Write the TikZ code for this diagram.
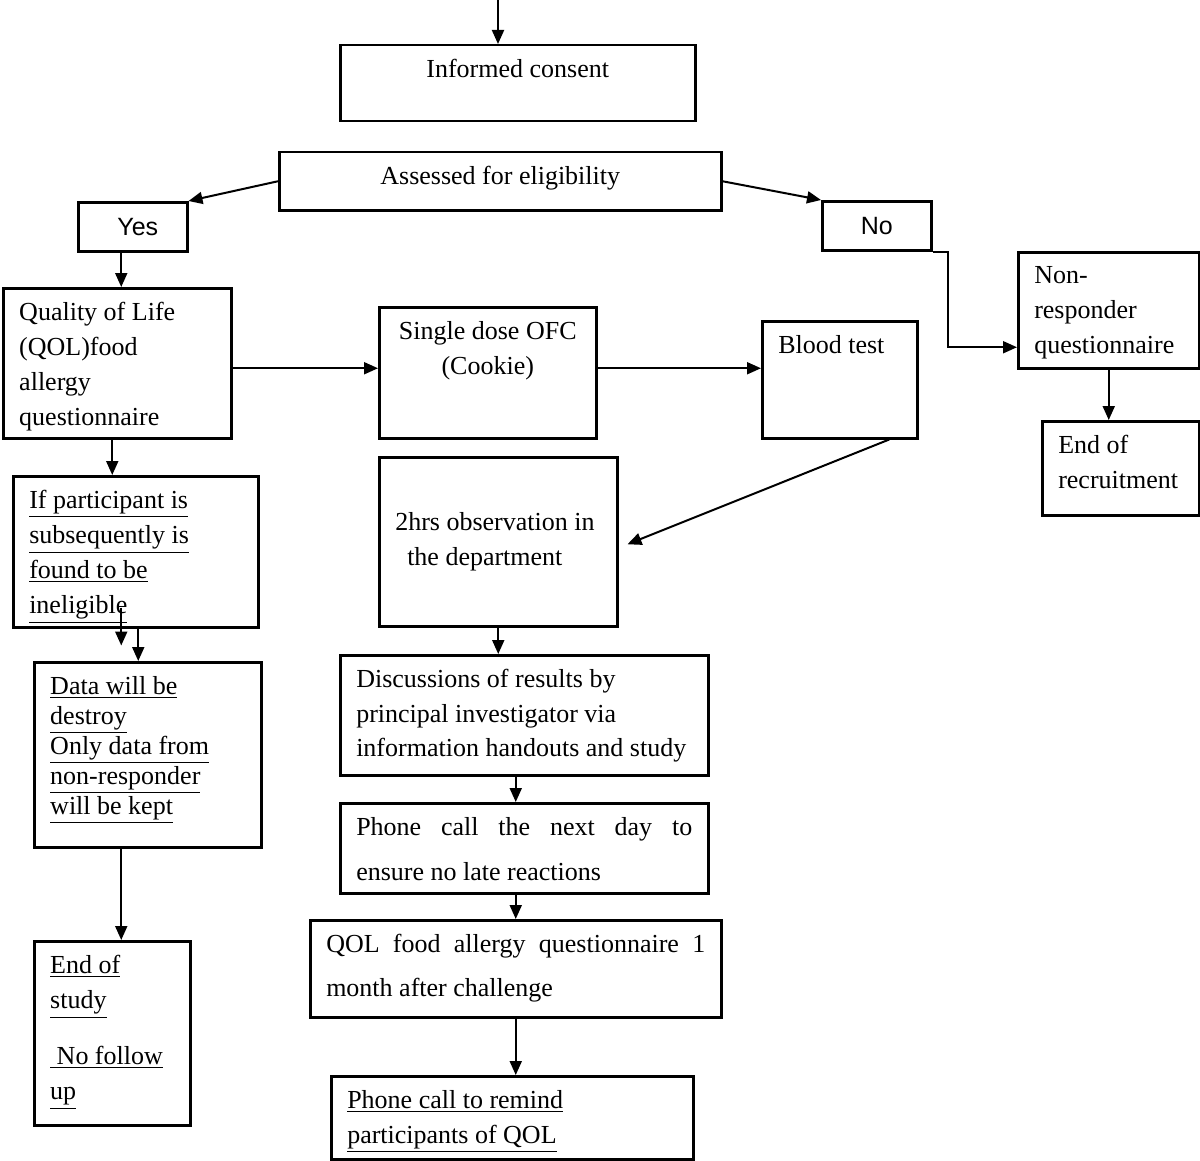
\documentclass[tikz,border=0pt]{standalone}
\usepackage{fontspec}
\setmainfont{Liberation Serif}
\setsansfont{Liberation Sans}
\usetikzlibrary{arrows.meta,calc}

\begin{document}
\begin{tikzpicture}[x=0.5pt,y=0.5pt,yscale=-1,
	box/.style={draw, line width=1.25pt, anchor=north west, inner xsep=8pt, inner ysep=7pt, font=\fontsize{13pt}{17.5pt}\selectfont},
	choice/.style={draw, line width=1.25pt, anchor=north west, minimum width=54.5pt, minimum height=24.5pt, inner sep=0pt, font=\sffamily\fontsize{12.5pt}{14pt}\selectfont},
	arr/.style={line width=1pt, -{Triangle[length=7pt,width=6pt]}}]
	\useasboundingbox (0,0) rectangle (1200,1161);
	
	% Text Node
	\node [box] (consent) at (339,44) {\parbox[t][24pt][t]{161.5pt}{\centering Informed consent}};
	% Text Node
	\node [box] (assess) at (278,151) {\parbox[t][15pt][t]{205pt}{\centering Assessed for eligibility}};
	% Text Node
	\node [choice] (yes) at (77,201) {\hspace*{5pt}Yes};
	% Text Node
	\node [choice] (no) at (821,200) {No};
	% Text Node
	\node [box] (qol) at (2,287) {\parbox[t][61pt][t]{98pt}{Quality of Life\\(QOL)food\\allergy\\questionnaire}};
	% Text Node
	\node [box] (ofc) at (378,306) {\parbox[t][51.5pt][t]{92.5pt}{\centering Single dose OFC\\(Cookie)}};
	% Text Node
	\node [box] (blood) at (761,320) {\parbox[t][44.5pt][t]{61.5pt}{Blood test}};
	% Text Node
	\node [box] (nonresp) at (1017,251) {\parbox[t][44pt][t]{74.5pt}{Non-\\responder\\questionnaire}};
	% Text Node
	\node [box] (endrec) at (1041,420) {\parbox[t][33pt][t]{62.5pt}{End of\\recruitment}};
	% Text Node
	\node [box] (inelig) at (12,475) {\parbox[t][61.5pt][t]{106.5pt}{\underline{If participant is}\\\underline{subsequently is}\\\underline{found to be}\\\underline{ineligible}}};
	% Text Node
	\node [box] (obs) at (378,456) {\parbox[t][70.5pt][c]{103pt}{2hrs observation in\\\hspace*{6pt}the department}};
	% Text Node
	\node [box, font=\fontsize{13pt}{15pt}\selectfont] (data) at (33,661) {\parbox[t][78.5pt][t]{97.5pt}{\underline{Data will be}\\\underline{destroy}\\\underline{Only data from}\\\underline{non-responder}\\\underline{will be kept}}};
	% Text Node
	\node [box, font=\fontsize{13pt}{17.25pt}\selectfont] (discuss) at (339,654) {\parbox[t][46pt][t]{168pt}{Discussions of results by\\principal investigator via\\information handouts and study}};
	% Text Node
	\node [box, font=\fontsize{13pt}{22.5pt}\selectfont] (phone) at (339,802) {\parbox[t][31pt][t]{168pt}{\makebox[\linewidth][s]{Phone call the next day to}\\ensure no late reactions}};
	% Text Node
	\node [box, font=\fontsize{13pt}{22pt}\selectfont] (month) at (309,919) {\parbox[t][34.5pt][t]{189.5pt}{\makebox[\linewidth][s]{QOL food allergy questionnaire 1}\\month after challenge}};
	% Text Node
	\node [box] (endstudy) at (33,940) {\parbox[t][78pt][t]{62pt}{\underline{End of}\\\underline{study}\\[10.5pt]\underline{\ No follow}\\\underline{up}}};
	% Text Node
	\node [box] (remind) at (330,1075) {\parbox[t][27.5pt][t]{165pt}{\underline{Phone call to remind}\\\underline{participants of QOL}}};
	
	%Straight Lines
	\coordinate (start) at (498,0);
	\draw [arr] (start) -- (start |- consent.north);
	\draw [arr] (assess.west) -- (yes.north east);
	\draw [arr] (assess.east) -- (no.north west);
	\draw [arr] (yes.south) ++(-11.5,0) coordinate (y1) -- (y1 |- qol.north);
	\draw [arr] (no.south east) -- ++(15,0) |- ($(nonresp.west)+(0,37)$);
	\draw [arr] (nonresp.south) -- (nonresp.south |- endrec.north);
	\draw [arr] (qol.east) ++(0,5) coordinate (q1) -- (q1 -| ofc.west);
	\draw [arr] (ofc.east) ++(0,-4.5) coordinate (o1) -- (o1 -| blood.west);
	\draw [arr] (blood.south) ++(49.5,0) -- ($(obs.east)+(9,2.5)$);
	\draw [arr] (qol.south) ++(-5,0) coordinate (q2) -- (q2 |- inelig.north);
	\draw [arr] (inelig.south) ++(-14.5,-21) -- ++(0,38);
	\draw [arr] (inelig.south) ++(2.5,0) coordinate (i1) -- (i1 |- data.north);
	\draw [arr] (data.south) ++(-26.5,0) coordinate (d1) -- (d1 |- endstudy.north);
	\draw [arr] (obs.south) -- (obs.south |- discuss.north);
	\draw [arr] (discuss.south -| month.north) -- (phone.north -| month.north);
	\draw [arr] (phone.south -| month.north) -- (month.north);
	\draw [arr] (month.south) -- (month.south |- remind.north);
	
\end{tikzpicture}
\end{document}
